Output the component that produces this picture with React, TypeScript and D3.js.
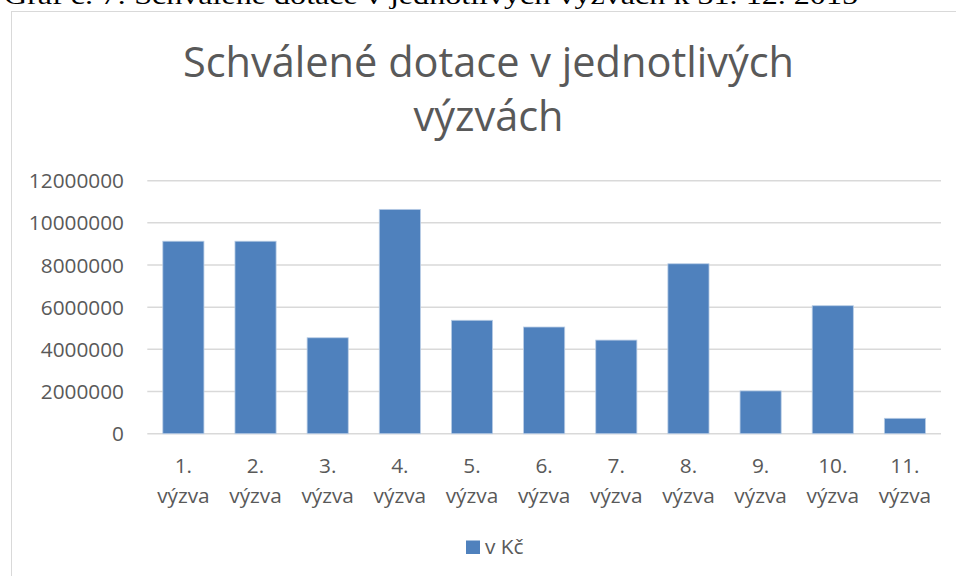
import React from "react";
import * as d3 from "d3";

const categories = ["1. výzva", "2. výzva", "3. výzva", "4. výzva", "5. výzva", "6. výzva", "7. výzva", "8. výzva", "9. výzva", "10. výzva", "11. výzva"];
const values = [9130000, 9130000, 4550000, 10640000, 5380000, 5060000, 4440000, 8060000, 2030000, 6070000, 730000];
const yTicks = [0, 2000000, 4000000, 6000000, 8000000, 10000000, 12000000];
const seriesName = "v Kč";
const titleLines = ["Schválené dotace v jednotlivých", "výzvách"];
const caption = "Graf č. 7: Schválené dotace v jednotlivých výzvách k 31. 12. 2015";

export default function App() {
  const W = 956, H = 576;
  const x = d3.scaleBand<string>().domain(categories).range([147.3, 941]).paddingInner(0.43).paddingOuter(0.215);
  const y = d3.scaleLinear().domain([0, 12000000]).range([433.7, 180.7]);
  const font = "'Open Sans', sans-serif";
  const grey = "#595959";
  return (
    <svg width={W} height={H} style={{ position: "absolute", left: 0, top: 0, background: "#fff" }}>
      <text x={4} y={4} fontFamily="'Liberation Serif', 'Times New Roman', serif" fontSize={26} fill="#000" textLength={854} lengthAdjust="spacingAndGlyphs">{caption}</text>
      <rect x={11.5} y={11.5} width={W} height={H} fill="#fff" stroke="#d9d9d9" strokeWidth={1} />
      {titleLines.map((t, i) => (
        <text key={i} x={488.5} y={76.7 + i * 54} textAnchor="middle" fontFamily={font} fontSize={41.5} fill={grey}>{t}</text>
      ))}
      {yTicks.map((t) => (
        <g key={t}>
          <line x1={147.3} x2={941} y1={y(t)} y2={y(t)} stroke="#d9d9d9" strokeWidth={1.5} />
          <text x={124} y={y(t)} dy="0.36em" textAnchor="end" fontFamily={font} fontSize={20.8} fill={grey}>{t}</text>
        </g>
      ))}
      {values.map((v, i) => (
        <rect key={i} x={x(categories[i])} y={y(v)} width={x.bandwidth()} height={y(0) - y(v)} fill="#4f81bd" stroke="#b9cde5" strokeWidth={0.8} />
      ))}
      {categories.map((c) => {
        const parts = c.split(" ");
        const cx = (x(c) as number) + x.bandwidth() / 2;
        return (
          <text key={c} x={cx} textAnchor="middle" fontFamily={font} fontSize={20.8} fill={grey}>
            <tspan x={cx} y={473}>{parts[0]}</tspan>
            <tspan x={cx} y={503}>{parts[1]}</tspan>
          </text>
        );
      })}
      <rect x={466} y={540.5} width={14} height={13.5} fill="#4f81bd" />
      <text x={485} y={554} fontFamily={font} fontSize={20.8} fill={grey}>{seriesName}</text>
    </svg>
  );
}
